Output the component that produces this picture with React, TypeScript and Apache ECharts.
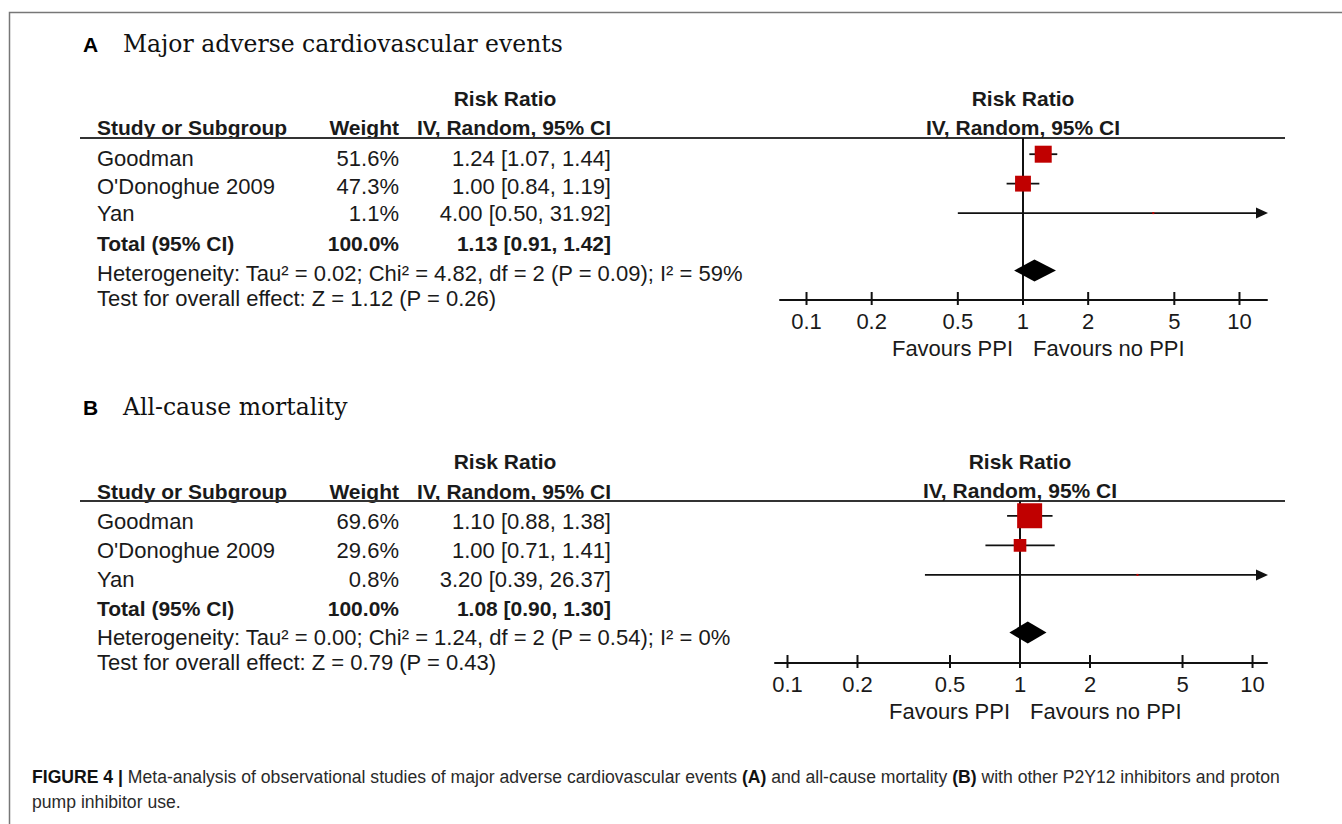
import React, { useEffect, useRef } from "react";
import * as echarts from "echarts";

// ---------- data ----------
const studiesA = ["Goodman", "O'Donoghue 2009", "Yan"];
const weightsA = [51.6, 47.3, 1.1];
const rrA = [1.24, 1.0, 4.0];
const lowerA = [1.07, 0.84, 0.5];
const upperA = [1.44, 1.19, 31.92];
const totalA = [1.13, 0.91, 1.42]; // estimate, lower, upper
const hetA = "Heterogeneity: Tau² = 0.02; Chi² = 4.82, df = 2 (P = 0.09); I² = 59%";
const testA = "Test for overall effect: Z = 1.12 (P = 0.26)";

const studiesB = ["Goodman", "O'Donoghue 2009", "Yan"];
const weightsB = [69.6, 29.6, 0.8];
const rrB = [1.1, 1.0, 3.2];
const lowerB = [0.88, 0.71, 0.39];
const upperB = [1.38, 1.41, 26.37];
const totalB = [1.08, 0.9, 1.3];
const hetB = "Heterogeneity: Tau² = 0.00; Chi² = 1.24, df = 2 (P = 0.54); I² = 0%";
const testB = "Test for overall effect: Z = 0.79 (P = 0.43)";

const tickValues = [0.1, 0.2, 0.5, 1, 2, 5, 10];
const tickLabels = ["0.1", "0.2", "0.5", "1", "2", "5", "10"];

const captionLine1 =
  "{b|FIGURE 4 |} Meta-analysis of observational studies of major adverse cardiovascular events {b|(A)} and all-cause mortality {b|(B)} with other P2Y12 inhibitors and proton";
const captionLine2 = "pump inhibitor use.";

// ---------- layout / style ----------
const SANS = '"Liberation Sans", Arial, sans-serif';
const SERIF = '"DejaVu Serif", "Liberation Serif", serif';
const CAP = '"Liberation Sans", Arial, sans-serif';
const INK = "#1a1a1a";
const FS = 22; // regular text
const FB = 21; // bold text
const TOTAL_ROW = 3.95;

const panels = [
  {
    letter: "A",
    title: "Major adverse cardiovascular events",
    studies: studiesA, weights: weightsA, rr: rrA, lo: lowerA, hi: upperA,
    total: totalA, het: hetA, test: testA,
    grid: { left: 780, top: 138, width: 487, height: 162 },
    xMin: 0.07543, xMax: 13.4, yMin: -0.55, yMax: 4.95, maxSide: 17,
    layout: { titleY: 44, hdr1: 98, hdr2: 127, rows: [158, 186, 213], total: 243, het: 273, test: 298 },
  },
  {
    letter: "B",
    title: "All-cause mortality",
    studies: studiesB, weights: weightsB, rr: rrB, lo: lowerB, hi: upperB,
    total: totalB, het: hetB, test: testB,
    grid: { left: 775, top: 501, width: 492, height: 162 },
    xMin: 0.08836, xMax: 11.54, yMin: -0.5, yMax: 4.98, maxSide: 25,
    layout: { titleY: 407, hdr1: 461, hdr2: 491, rows: [521, 550, 579], total: 608, het: 637, test: 662 },
  },
];

const COL_STUDY = 97;
const COL_WEIGHT = 399;
const COL_CI = 611;
const COL_RR_CENTER = 505;

function fmt(v: number) {
  return v.toFixed(2);
}

function txt(text: string, x: number, y: number, o: any = {}) {
  const align = o.align || "left";
  const size = o.size || (o.bold ? FB : FS);
  const font = `${o.bold ? "bold " : ""}${size}px ${o.family || SANS}`;
  return {
    type: "text",
    x,
    y,
    style: {
      text,
      fill: o.fill || INK,
      font,
      align,
      verticalAlign: "middle",
      textAlign: align,
      textVerticalAlign: "middle",
    },
  };
}

function panelGraphics(p: any) {
  const L = p.layout;
  const els: any[] = [];
  els.push(txt(p.letter, 83, L.titleY, { bold: true, size: 21, fill: "#000" }));
  els.push(txt(p.title, 123, L.titleY, { family: SERIF, size: 23.5, fill: "#111" }));
  els.push(txt("Risk Ratio", COL_RR_CENTER, L.hdr1, { bold: true, align: "center" }));
  els.push(txt("Study or Subgroup", COL_STUDY, L.hdr2, { bold: true }));
  els.push(txt("Weight", COL_WEIGHT, L.hdr2, { bold: true, align: "right" }));
  els.push(txt("IV, Random, 95% CI", COL_CI, L.hdr2, { bold: true, align: "right" }));
  els.push({
    type: "line",
    shape: { x1: 80, y1: p.grid.top, x2: 1285, y2: p.grid.top },
    style: { stroke: "#333", lineWidth: 2 },
  });
  p.studies.forEach((s: string, i: number) => {
    const y = L.rows[i];
    els.push(txt(s, COL_STUDY, y));
    els.push(txt(p.weights[i].toFixed(1) + "%", COL_WEIGHT, y, { align: "right" }));
    els.push(txt(`${fmt(p.rr[i])} [${fmt(p.lo[i])}, ${fmt(p.hi[i])}]`, COL_CI, y, { align: "right" }));
  });
  const sumW = p.weights.reduce((a: number, b: number) => a + b, 0);
  els.push(txt("Total (95% CI)", COL_STUDY, L.total, { bold: true }));
  els.push(txt(sumW.toFixed(1) + "%", COL_WEIGHT, L.total, { bold: true, align: "right" }));
  els.push(
    txt(`${fmt(p.total[0])} [${fmt(p.total[1])}, ${fmt(p.total[2])}]`, COL_CI, L.total, { bold: true, align: "right" })
  );
  els.push(txt(p.het, COL_STUDY, L.het));
  els.push(txt(p.test, COL_STUDY, L.test));
  return els;
}

function tx(text: string, x: number, y: number, font: string, align: string) {
  return {
    type: "text",
    x,
    y,
    style: { text, font, fill: INK, align, verticalAlign: "middle", textAlign: align, textVerticalAlign: "middle" },
  };
}

function buildOption() {
  const series: any[] = [];
  panels.forEach((p, i) => {
    const maxW = Math.max(...p.weights);
    // reference line at 1 with headers and favours labels
    series.push({
      type: "custom",
      xAxisIndex: i,
      yAxisIndex: i,
      clip: false,
      z: 1,
      data: [[1, p.yMin, p.yMax]],
      renderItem: (params: any, api: any) => {
        const top = api.coord([api.value(0), api.value(1)]);
        const bot = api.coord([api.value(0), api.value(2)]);
        const x = top[0];
        const f = `${FS}px ${SANS}`;
        const fb = `bold ${FB}px ${SANS}`;
        return {
          type: "group",
          children: [
            { type: "line", shape: { x1: x, y1: top[1], x2: x, y2: bot[1] }, style: { stroke: "#111", lineWidth: 2 } },
            tx("Risk Ratio", x, top[1] - 40, fb, "center"),
            tx("IV, Random, 95% CI", x, top[1] - 11, fb, "center"),
            tx("Favours PPI", x - 10, bot[1] + 48, f, "right"),
            tx("Favours no PPI", x + 10, bot[1] + 48, f, "left"),
          ],
        };
      },
    });
    // ticks
    series.push({
      type: "custom",
      xAxisIndex: i,
      yAxisIndex: i,
      clip: false,
      z: 2,
      data: tickValues.map((v) => [v, p.yMax]),
      renderItem: (params: any, api: any) => {
        const c = api.coord([api.value(0), api.value(1)]);
        return {
          type: "group",
          children: [
            { type: "line", shape: { x1: c[0], y1: c[1] - 8, x2: c[0], y2: c[1] + 5 }, style: { stroke: "#111", lineWidth: 2 } },
            tx(tickLabels[params.dataIndex], c[0], c[1] + 21, `${FS}px ${SANS}`, "center"),
          ],
        };
      },
    });
    // studies
    series.push({
      type: "custom",
      xAxisIndex: i,
      yAxisIndex: i,
      clip: false,
      z: 3,
      encode: { x: 0, y: 1 },
      data: p.studies.map((_, k) => [p.rr[k], k, p.lo[k], p.hi[k], p.weights[k]]),
      renderItem: (params: any, api: any) => {
        const row = api.value(1);
        const c = api.coord([api.value(0), row]);
        const lo = Math.max(api.value(2), p.xMin);
        const hiRaw = api.value(3);
        const clipped = hiRaw > p.xMax;
        const l = api.coord([lo, row]);
        const r = api.coord([clipped ? p.xMax : hiRaw, row]);
        const s = Math.max(2, p.maxSide * Math.pow(api.value(4) / maxW, 0.8));
        const children: any[] = [
          {
            type: "line",
            shape: { x1: l[0], y1: c[1], x2: clipped ? r[0] - 6 : r[0], y2: c[1] },
            style: { stroke: "#111", lineWidth: 1.8 },
          },
          {
            type: "rect",
            shape: { x: c[0] - s / 2, y: c[1] - s / 2, width: s, height: s },
            style: { fill: "#c00000" },
          },
        ];
        if (clipped) {
          children.push({
            type: "polygon",
            shape: { points: [[r[0] - 11, c[1] - 5.5], [r[0] + 1, c[1]], [r[0] - 11, c[1] + 5.5]] },
            style: { fill: "#111" },
          });
        }
        return { type: "group", children };
      },
    });
    // total diamond
    series.push({
      type: "custom",
      xAxisIndex: i,
      yAxisIndex: i,
      clip: false,
      z: 3,
      encode: { x: 0, y: 1 },
      data: [[p.total[0], TOTAL_ROW, p.total[1], p.total[2]]],
      renderItem: (params: any, api: any) => {
        const row = api.value(1);
        const c = api.coord([api.value(0), row]);
        const l = api.coord([api.value(2), row]);
        const r = api.coord([api.value(3), row]);
        const h = 11;
        return {
          type: "polygon",
          shape: { points: [[l[0], c[1]], [c[0], c[1] - h], [r[0], c[1]], [c[0], c[1] + h]] },
          style: { fill: "#000" },
        };
      },
    });
  });

  const graphic: any[] = [
    {
      type: "polyline",
      shape: { points: [[9.5, 824], [9.5, 12.5], [1342, 12.5]] },
      style: { stroke: "#777", lineWidth: 1.5, fill: null },
    },
  ];
  panels.forEach((p) => graphic.push(...panelGraphics(p)));
  const CS = 17.6;
  const capRich = { b: { fontWeight: "bold", fontSize: CS, fontFamily: CAP, fill: "#111" } };
  graphic.push({
    type: "text",
    x: 32,
    y: 777,
    style: {
      text: captionLine1,
      fontSize: CS,
      fontFamily: CAP,
      fill: "#2a2a2a",
      rich: capRich,
      verticalAlign: "middle",
      textVerticalAlign: "middle",
    },
  });
  graphic.push({
    type: "text",
    x: 32,
    y: 802,
    style: {
      text: captionLine2,
      fontSize: CS,
      fontFamily: CAP,
      fill: "#2a2a2a",
      verticalAlign: "middle",
      textVerticalAlign: "middle",
    },
  });

  return {
    animation: false,
    backgroundColor: "#fff",
    grid: panels.map((p) => ({ ...p.grid, containLabel: false })),
    xAxis: panels.map((p, i) => ({
      type: "log",
      logBase: 10,
      gridIndex: i,
      min: p.xMin,
      max: p.xMax,
      position: "bottom",
      axisLine: { show: true, onZero: false, lineStyle: { color: "#111", width: 2 } },
      axisTick: { show: false },
      axisLabel: { show: false },
      splitLine: { show: false },
    })),
    yAxis: panels.map((p, i) => ({
      type: "value",
      gridIndex: i,
      inverse: true,
      min: p.yMin,
      max: p.yMax,
      show: false,
      splitLine: { show: false },
    })),
    series,
    graphic,
  };
}

export default function App() {
  const ref = useRef<HTMLDivElement>(null);
  useEffect(() => {
    if (!ref.current) return;
    const chart = echarts.init(ref.current, undefined, { renderer: "svg" });
    chart.setOption(buildOption() as any);
    return () => chart.dispose();
  }, []);
  return (
    <div
      ref={ref}
      style={{ position: "fixed", left: 0, top: 0, width: 1342, height: 824, background: "#fff" }}
    />
  );
}
